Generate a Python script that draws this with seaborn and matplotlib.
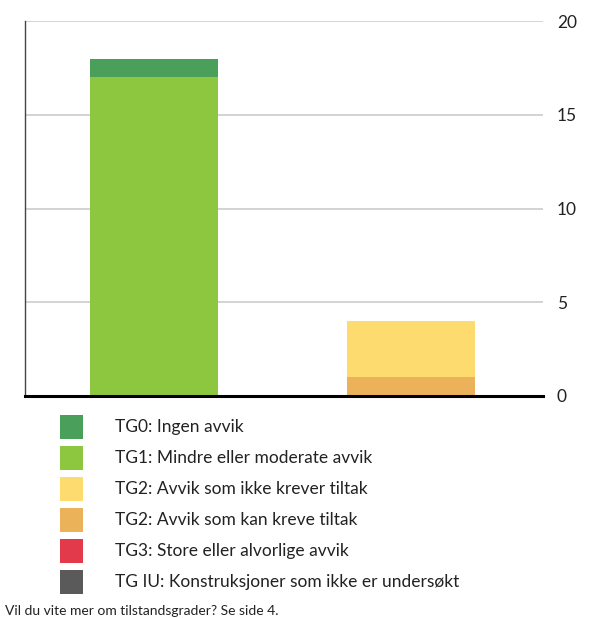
"""
Stacked bar chart of tilstandsgrader (condition grades) per category
"""
import matplotlib
matplotlib.use('Agg')
import matplotlib.pyplot as plt
import seaborn as sns
import pandas as pd
from matplotlib.patches import Rectangle

# Data
categories = ["Gruppe 1", "Gruppe 2"]
grades = [
    "TG0: Ingen avvik",
    "TG1: Mindre eller moderate avvik",
    "TG2: Avvik som ikke krever tiltak",
    "TG2: Avvik som kan kreve tiltak",
    "TG3: Store eller alvorlige avvik",
    "TG IU: Konstruksjoner som ikke er undersøkt",
]
tg0 = [1, 0]
tg1 = [17, 0]
tg2_ikke = [0, 3]
tg2_kan = [0, 1]
tg3 = [0, 0]
tg_iu = [0, 0]
colors = ["#4aa05a", "#8dc63f", "#fedb6e", "#ecb259", "#e33a4b", "#5a5a5a"]
y_ticks = [0, 5, 10, 15, 20]
footer = "Vil du vite mer om tilstandsgrader? Se side 4."

sns.set_theme(style="white")
plt.rcParams['font.family'] = ['Lato', 'DejaVu Sans']

df = pd.DataFrame({
    "kategori": categories,
    grades[0]: tg0, grades[1]: tg1, grades[2]: tg2_ikke,
    grades[3]: tg2_kan, grades[4]: tg3, grades[5]: tg_iu,
})

# stack from bottom: TG IU, TG3, TG2 kan, TG2 ikke, TG1, TG0
stack_order = [5, 4, 3, 2, 1, 0]
cum = pd.DataFrame({"kategori": categories})
running = pd.Series([0] * len(categories), dtype=float)
for i in stack_order:
    running = running + df[grades[i]]
    cum[grades[i]] = running

fig = plt.figure(figsize=(5.9, 6.18), dpi=100)
ax = fig.add_axes([25 / 590, 1 - 396 / 618, 518 / 590, 375 / 618])

# draw from top of stack down so lower segments cover upper totals
for i in reversed(stack_order):
    sns.barplot(data=cum, x="kategori", y=grades[i], color=colors[i],
                width=0.5, saturation=1, linewidth=0, ax=ax, zorder=3)

ax.set_xlim(-0.502, 1.514)
ax.set_ylim(0, 20)
ax.set_yticks(y_ticks)
ax.yaxis.tick_right()
ax.tick_params(axis='y', length=0, pad=10, labelsize=12.5, labelcolor="#222222")
ax.set_xticks([])
ax.set_xlabel("")
ax.set_ylabel("")
ax.grid(axis='y', color="#d3d3d3", linewidth=1.4, zorder=0)
ax.set_axisbelow(True)
for s in ["top", "right"]:
    ax.spines[s].set_visible(False)
ax.spines["left"].set_color("#444444")
ax.spines["left"].set_linewidth(1.0)
ax.spines["bottom"].set_color("black")
ax.spines["bottom"].set_linewidth(2.2)
ax.spines["bottom"].set_zorder(5)

# Legend
W, H = 590, 618
for k, (label, c) in enumerate(zip(grades, colors)):
    yc = 427 + k * 31
    fig.add_artist(Rectangle((60 / W, 1 - (yc + 12) / H), 23 / W, 24 / H,
                             transform=fig.transFigure, color=c, lw=0))
    fig.text(115 / W, 1 - yc / H, label, fontsize=12.5, color="#222222",
             va="center", ha="left")

fig.text(5 / W, 1 - 611 / H, footer, fontsize=10, color="#222222",
         va="center", ha="left")

fig.savefig("out.png", dpi=100)
plt.close(fig)
